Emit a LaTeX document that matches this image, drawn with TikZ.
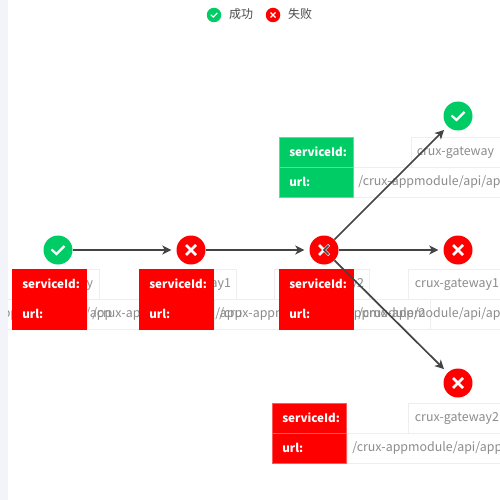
\documentclass[tikz,border=0pt]{standalone}
\usepackage{fontspec}
\setmainfont{Noto Sans CJK SC}
\usetikzlibrary{arrows.meta}
\definecolor{okgreen}{HTML}{00CC66}
\definecolor{failred}{HTML}{FF0000}
\definecolor{cellline}{HTML}{EEEEEE}
\definecolor{valuetext}{HTML}{8C8C8C}
\definecolor{flowline}{HTML}{444444}
\definecolor{pagestrip}{HTML}{F3F3FA}
\tikzset{
  okicon/.style={circle,fill=okgreen,inner sep=0pt,minimum size=29pt*#1,
    path picture={\draw[white,line width=#1*2.2pt,shift={(path picture bounding box.center)}]
      ({-6.5*#1},{-.5*#1}) -- ({-1.5*#1},{4*#1}) -- ({6.5*#1},{-4*#1});}},
  failicon/.style={circle,fill=failred,inner sep=0pt,minimum size=29pt*#1,
    path picture={\draw[white,line width=#1*2.6pt,shift={(path picture bounding box.center)}]
      ({-5*#1},{-5*#1}) -- ({5*#1},{5*#1}) ({-5*#1},{5*#1}) -- ({5*#1},{-5*#1});}},
  flow/.style={draw=flowline,line width=1.7pt,-{Stealth[length=9pt,width=9pt,inset=2.5pt]},shorten >=5pt},
  labelcell/.style={draw=#1!65!white,line width=.6pt,fill=#1,text=white,anchor=north west,
    minimum height=30pt,inner sep=0pt,inner xsep=10pt,text width=53.5pt,align=left,font=\fontsize{11.6}{14}\selectfont\bfseries},
  solidcell/.style={labelcell=failred,draw=failred},
  idcell/.style={draw=cellline,line width=.8pt,anchor=north west,minimum height=30pt,inner sep=0pt,
    text=valuetext,font=\fontsize{12.4}{14}\selectfont},
  urlcell/.style={draw=cellline,line width=.8pt,anchor=north west,minimum height=30pt,inner sep=0pt,inner xsep=5pt,
    text=valuetext,align=left,font=\fontsize{12.4}{14}\selectfont},
  legendtext/.style={text=black!70,inner sep=0pt,anchor=west,font=\fontsize{12}{14}\selectfont}
}
\begin{document}
\begin{tikzpicture}[x=1pt,y=-1pt]
  \useasboundingbox[fill=white] (0,0) rectangle (500,500);

  % legend
  \node[okicon=.5] (legendOk) at (214,15) {};
  \node[legendtext] (legendOkText) at (229,14) {成功};
  \node[failicon=.5] (legendFail) at (273,15) {};
  \node[legendtext] (legendFailText) at (288,14) {失败};

  % value cells, the row below the nodes runs together
  \node[idcell,minimum width=82pt] (idA) at (17,269) {\hspace*{-8pt}crux-gateway};
  \node[idcell,minimum width=91pt] (idB) at (145,269) {\hspace*{-4pt}crux-gateway1};
  \node[idcell,minimum width=95pt] (idC) at (274,269) {crux-gateway2};
  \node[idcell,minimum width=120pt] (idD) at (408,269) {\hspace*{-23pt}crux-gateway1};
  \node[urlcell,text width=172pt] (urlA) at (-43,299) {/crux-appmodule/api/app};
  \node[urlcell,text width=188pt] (urlB) at (87,299) {/crux-appmodule/api/app};
  \node[urlcell,text width=206pt] (urlC) at (214,299) {\mbox{/crux-appmodule/api/appmodule/2}};
  \node[urlcell,text width=200pt] (urlD) at (353,299) {/crux-appmodule/api/app};
  \node[idcell,minimum width=120pt] (idTop) at (411,137) {\hspace*{-32pt}crux-gateway};
  \node[urlcell,text width=200pt] (urlTop) at (353,167) {/crux-appmodule/api/app};
  \node[idcell,minimum width=120pt] (idBottom) at (408,403) {\hspace*{-23pt}crux-gateway2};
  \node[urlcell,text width=200pt] (urlBottom) at (347,433) {/crux-appmodule/api/app};

  % labels
  \node[solidcell] (nameA) at (12,269) {\raisebox{1pt}{serviceId:}};
  \node[solidcell] (pathA) at (12,299) {\raisebox{1pt}{url:}};
  \node[solidcell] (nameB) at (139,269) {\raisebox{1pt}{serviceId:}};
  \node[solidcell] (pathB) at (139,299) {\raisebox{1pt}{url:}};
  \node[solidcell] (nameC) at (279,269) {\raisebox{1pt}{serviceId:}};
  \node[solidcell] (pathC) at (279,299) {\raisebox{1pt}{url:}};
  \node[labelcell=okgreen] (nameTop) at (279,137) {\raisebox{1pt}{serviceId:}};
  \node[labelcell=okgreen] (pathTop) at (279,167) {\raisebox{1pt}{url:}};
  \node[labelcell=failred] (nameBottom) at (272,403) {\raisebox{1pt}{serviceId:}};
  \node[labelcell=failred] (pathBottom) at (272,433) {\raisebox{1pt}{url:}};

  \fill[pagestrip] (0,0) rectangle (8,500);

  % flow
  \node[okicon=1] (start) at (58,250) {};
  \node[failicon=1] (gateway) at (191,250) {};
  \node[failicon=1] (split) at (324,250) {};
  \node[failicon=1] (endMid) at (458,250) {};
  \node[okicon=1] (endTop) at (458,116) {};
  \node[failicon=1] (endBottom) at (458,383) {};

  \draw[flow] (start) -- (gateway);
  \draw[flow] (gateway) -- (split);
  \draw[flow] (split) -- (endMid);
  \draw[flow] (split) -- (endTop);
  \draw[flow] (split) -- (endBottom);
  \draw[draw=flowline,line width=1.5pt] (split.center) +(4.6,-4.6) -- (split.center) -- +(4.6,4.6);
\end{tikzpicture}
\end{document}
